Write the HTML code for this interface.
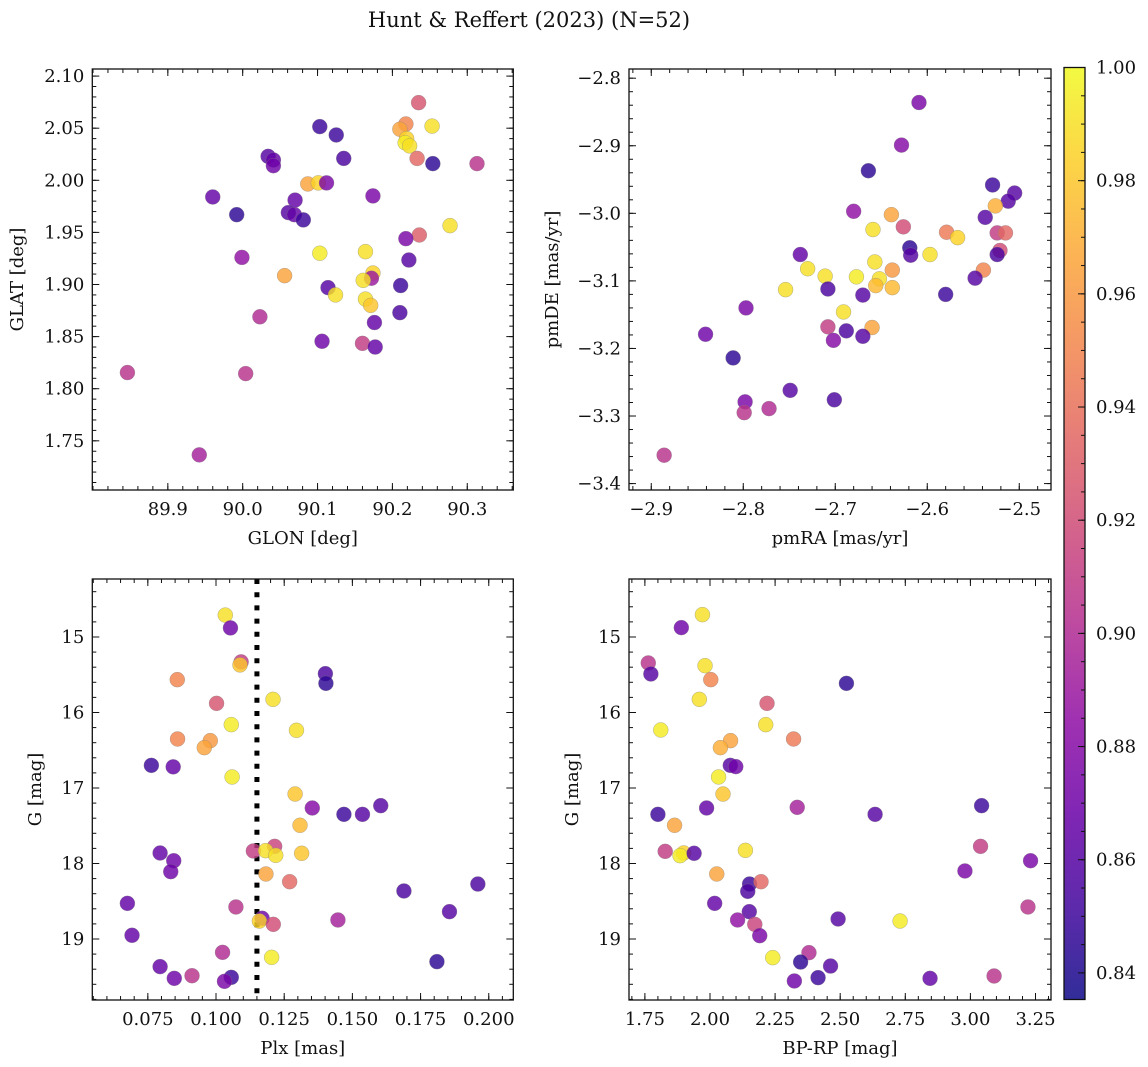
<!DOCTYPE html>
<html><head><meta charset="utf-8"><title>Hunt & Reffert (2023)</title>
<style>
html,body{margin:0;padding:0;background:#fff;}
svg{display:block;font-family:"DejaVu Serif","Liberation Serif",serif;}
</style></head>
<body>
<svg id="fig" width="1148" height="1067" viewBox="0 0 1148 1067" xmlns="http://www.w3.org/2000/svg">
<defs>
<linearGradient id="plasmaGrad" x1="0" y1="1" x2="0" y2="0"></linearGradient>
</defs>
<text x="529" y="27" font-size="21" text-anchor="middle" fill="#111">Hunt &amp; Reffert (2023) (N=52)</text>
</svg>
<script>
// ---------------- data ----------------
const vMin = 0.8353, vMax = 1.0;
// Panel 1: GLON vs GLAT
const glon = [90.235,90.218,90.253,90.210,90.219,90.217,90.223,90.233,90.254,90.313,90.103,90.125,90.135,90.034,90.041,90.041,90.087,90.101,90.112,90.174,89.960,90.070,89.992,90.061,90.069,90.081,90.277,90.236,90.218,89.999,90.103,90.164,90.222,90.056,90.174,90.172,90.161,90.114,90.124,90.211,90.164,90.171,90.210,90.023,90.176,90.106,90.160,90.177,89.846,90.004,89.942];
const glat = [2.0745,2.054,2.052,2.049,2.040,2.036,2.033,2.021,2.016,2.016,2.0515,2.0435,2.021,2.023,2.0195,2.014,1.9965,1.9975,1.9975,1.985,1.984,1.981,1.967,1.969,1.967,1.962,1.9565,1.9475,1.944,1.926,1.930,1.9315,1.9235,1.9085,1.911,1.906,1.904,1.897,1.890,1.899,1.886,1.880,1.873,1.869,1.8635,1.8455,1.8435,1.840,1.8155,1.8145,1.7365];
const prob1 = [0.925,0.95,0.99,0.965,0.985,0.995,0.99,0.935,0.845,0.905,0.85,0.85,0.855,0.86,0.865,0.87,0.965,0.985,0.875,0.875,0.865,0.865,0.845,0.86,0.865,0.85,0.99,0.93,0.875,0.885,0.995,0.99,0.86,0.965,0.985,0.89,0.99,0.86,0.99,0.85,0.99,0.98,0.855,0.9,0.865,0.87,0.91,0.865,0.905,0.905,0.895];
// Panel 2: pmRA vs pmDE
const pmra = [-2.609,-2.628,-2.664,-2.529,-2.505,-2.512,-2.526,-2.680,-2.639,-2.626,-2.537,-2.659,-2.579,-2.567,-2.524,-2.515,-2.619,-2.618,-2.597,-2.521,-2.524,-2.738,-2.730,-2.711,-2.657,-2.638,-2.677,-2.652,-2.656,-2.638,-2.539,-2.548,-2.754,-2.708,-2.670,-2.580,-2.797,-2.691,-2.708,-2.660,-2.688,-2.670,-2.702,-2.841,-2.811,-2.749,-2.701,-2.798,-2.799,-2.772,-2.886];
const pmde = [-2.836,-2.899,-2.937,-2.958,-2.970,-2.982,-2.989,-2.997,-3.002,-3.020,-3.006,-3.024,-3.028,-3.036,-3.029,-3.029,-3.051,-3.062,-3.061,-3.055,-3.061,-3.061,-3.082,-3.093,-3.072,-3.084,-3.094,-3.097,-3.107,-3.110,-3.084,-3.096,-3.113,-3.112,-3.121,-3.120,-3.140,-3.146,-3.168,-3.169,-3.174,-3.182,-3.188,-3.179,-3.214,-3.262,-3.276,-3.279,-3.295,-3.289,-3.358];
const prob2 = [0.875,0.88,0.845,0.85,0.86,0.86,0.97,0.885,0.965,0.92,0.86,0.99,0.945,0.985,0.91,0.935,0.845,0.86,0.99,0.92,0.855,0.865,0.99,0.99,0.99,0.96,0.995,0.99,0.975,0.975,0.95,0.86,0.99,0.855,0.86,0.85,0.875,0.99,0.91,0.965,0.855,0.86,0.88,0.87,0.845,0.86,0.855,0.875,0.905,0.9,0.905];
// Panel 3: Plx vs G
const plx = [0.1034,0.1053,0.1092,0.1088,0.0858,0.1401,0.1403,0.1002,0.1209,0.1056,0.1295,0.0859,0.0979,0.0957,0.0763,0.0843,0.1059,0.1290,0.1353,0.1604,0.1469,0.1537,0.1308,0.0795,0.0845,0.0834,0.1137,0.1215,0.1182,0.1219,0.1314,0.1183,0.1270,0.0675,0.1073,0.1689,0.1960,0.1856,0.1169,0.1159,0.1210,0.1447,0.0692,0.1024,0.1204,0.1810,0.0795,0.0847,0.0912,0.1056,0.1031];
const gmag3 = [14.71,14.88,15.33,15.37,15.565,15.486,15.614,15.879,15.826,16.161,16.236,16.351,16.373,16.466,16.70,16.72,16.854,17.08,17.265,17.234,17.349,17.349,17.494,17.861,17.963,18.108,17.834,17.773,17.830,17.892,17.865,18.139,18.241,18.528,18.576,18.364,18.272,18.638,18.726,18.762,18.806,18.748,18.951,19.177,19.243,19.300,19.366,19.521,19.486,19.508,19.561];
const prob3 = [0.99,0.87,0.91,0.98,0.95,0.855,0.845,0.925,0.99,0.995,0.99,0.95,0.96,0.965,0.85,0.865,0.995,0.98,0.88,0.86,0.85,0.86,0.975,0.865,0.87,0.87,0.91,0.915,0.99,0.99,0.98,0.965,0.935,0.865,0.905,0.855,0.855,0.86,0.87,0.985,0.92,0.895,0.865,0.9,0.995,0.845,0.865,0.87,0.905,0.85,0.875];
const plxCut = 0.115;
// Panel 4: BP-RP vs G
const bprp = [1.971,1.890,1.763,1.773,1.981,2.003,2.524,1.959,2.219,1.811,2.214,2.321,2.079,2.040,2.078,2.099,2.033,2.050,1.987,2.335,1.800,2.634,3.043,1.864,1.828,1.899,1.885,1.939,2.136,3.039,3.231,2.979,2.026,2.152,2.196,2.145,2.018,3.221,2.151,2.106,2.492,2.730,2.172,2.191,2.241,2.380,2.348,2.463,2.415,2.324,2.845,3.091];
const gmag4 = [14.704,14.876,15.344,15.490,15.380,15.565,15.614,15.826,15.879,16.232,16.161,16.351,16.373,16.466,16.700,16.717,16.854,17.080,17.265,17.256,17.349,17.349,17.234,17.494,17.839,17.861,17.896,17.865,17.826,17.773,17.963,18.099,18.139,18.272,18.241,18.369,18.528,18.576,18.638,18.748,18.735,18.762,18.806,18.956,19.247,19.181,19.305,19.358,19.512,19.556,19.521,19.490];
const prob4 = [0.99,0.87,0.905,0.86,0.99,0.95,0.845,0.99,0.925,0.995,0.99,0.945,0.965,0.97,0.86,0.87,0.995,0.98,0.865,0.895,0.85,0.86,0.85,0.965,0.91,0.985,0.995,0.86,0.99,0.91,0.875,0.875,0.965,0.85,0.935,0.855,0.865,0.905,0.86,0.885,0.86,0.995,0.915,0.875,0.995,0.9,0.845,0.86,0.85,0.87,0.865,0.905];
// ticks
const xTicks1 = [89.9,90.0,90.1,90.2,90.3];
const yTicks1 = [1.75,1.80,1.85,1.90,1.95,2.00,2.05,2.10];
const xTicks2 = [-2.9,-2.8,-2.7,-2.6,-2.5];
const yTicks2 = [-3.4,-3.3,-3.2,-3.1,-3.0,-2.9,-2.8];
const xTicks3 = [0.075,0.100,0.125,0.150,0.175,0.200];
const yTicksG = [15,16,17,18,19];
const xTicks4 = [1.75,2.00,2.25,2.50,2.75,3.00,3.25];
const cbTicks = [0.84,0.86,0.88,0.90,0.92,0.94,0.96,0.98,1.00];

// ---------------- helpers ----------------
const NS = "http://www.w3.org/2000/svg";
const svg = document.getElementById('fig');
const plasmaStops = ["#0d0887","#41049d","#6a00a8","#8f0da4","#b12a90","#cc4778","#e16462","#f2844b","#fca636","#fcce25","#f0f921"];
function hex2rgb(h){return [parseInt(h.substr(1,2),16),parseInt(h.substr(3,2),16),parseInt(h.substr(5,2),16)];}
function plasma(t){
  t=Math.max(0,Math.min(1,t));
  const s=t*10, i=Math.min(9,Math.floor(s)), f=s-i;
  const a=hex2rgb(plasmaStops[i]), b=hex2rgb(plasmaStops[i+1]);
  return 'rgb('+a.map((v,k)=>Math.round(v+(b[k]-v)*f)).join(',')+')';
}
function mk(tag, attrs, parent){
  const e=document.createElementNS(NS,tag);
  for(const k in attrs) e.setAttribute(k,attrs[k]);
  (parent||svg).appendChild(e);
  return e;
}
function fmt(v,d){const s=Math.abs(v).toFixed(d);return (v<-1e-9?'\u2212':'')+s;}

function panel(cfg){
  const g=mk('g',{});
  
  
  const sx=v=>cfg.x0+(v-cfg.xd[0])/(cfg.xd[1]-cfg.xd[0])*(cfg.x1-cfg.x0);
  const sy=cfg.yInv ? (v=>cfg.y0+(v-cfg.yd[0])/(cfg.yd[1]-cfg.yd[0])*(cfg.y1-cfg.y0))
                    : (v=>cfg.y1-(v-cfg.yd[0])/(cfg.yd[1]-cfg.yd[0])*(cfg.y1-cfg.y0));
  const tickG=mk('g',{stroke:'#111','stroke-width':1},g);
  
  
  const lo=Math.min(cfg.xd[0],cfg.xd[1]), hi=Math.max(cfg.xd[0],cfg.xd[1]);
  for(let k=Math.ceil(lo/cfg.xm-1e-6);k*cfg.xm<=hi;k++){
    const x=sx(k*cfg.xm);
    mk('line',{x1:x,x2:x,y1:cfg.y1,y2:cfg.y1-4},tickG);
    mk('line',{x1:x,x2:x,y1:cfg.y0,y2:cfg.y0+4},tickG);
  }
  const ylo=Math.min(cfg.yd[0],cfg.yd[1]), yhi=Math.max(cfg.yd[0],cfg.yd[1]);
  for(let k=Math.ceil(ylo/cfg.ym-1e-6);k*cfg.ym<=yhi;k++){
    const y=sy(k*cfg.ym);
    mk('line',{x1:cfg.x0,x2:cfg.x0+4,y1:y,y2:y},tickG);
    mk('line',{x1:cfg.x1,x2:cfg.x1-4,y1:y,y2:y},tickG);
  }
  cfg.xt.forEach(v=>{
    const x=sx(v);
    mk('line',{x1:x,x2:x,y1:cfg.y1,y2:cfg.y1-7},tickG);
    mk('line',{x1:x,x2:x,y1:cfg.y0,y2:cfg.y0+7},tickG);
    const t=mk('text',{x:x,y:cfg.y1+25,'font-size':18,'text-anchor':'middle',fill:'#111'},g);
    
    
    t.textContent=fmt(v,cfg.xf);
  });
  cfg.yt.forEach(v=>{
    const y=sy(v);
    mk('line',{x1:cfg.x0,x2:cfg.x0+7,y1:y,y2:y},tickG);
    mk('line',{x1:cfg.x1,x2:cfg.x1-7,y1:y,y2:y},tickG);
    const t=mk('text',{x:cfg.x0-8,y:y+6,'font-size':18,'text-anchor':'end',fill:'#111'},g);
    
    
    t.textContent=fmt(v,cfg.yf);
  });
  if(cfg.vline!==undefined){
    const l=mk('line',{x1:sx(cfg.vline),x2:sx(cfg.vline),y1:cfg.y0,y2:cfg.y1,stroke:'#000','stroke-width':5,'stroke-dasharray':'5,8.2'},g);
    
    
  }
  const ptG=mk('g',{},g);
  
  
  cfg.xs.forEach((xv,i)=>{
    const c=mk('circle',{cx:sx(xv),cy:sy(cfg.ys[i]),r:7.5,fill:plasma((cfg.cs[i]-vMin)/(vMax-vMin)),'fill-opacity':0.82,stroke:'#808080','stroke-opacity':0.6,'stroke-width':0.5},ptG);
    
    
  });
  const fr=mk('rect',{x:cfg.x0,y:cfg.y0,width:cfg.x1-cfg.x0,height:cfg.y1-cfg.y0,fill:'none',stroke:'#111','stroke-width':1.3},g);
  
  
  const xl=mk('text',{x:(cfg.x0+cfg.x1)/2,y:cfg.y1+54,'font-size':18,'text-anchor':'middle',fill:'#111'},g);
  
  
  xl.textContent=cfg.xl;
  const yc=(cfg.y0+cfg.y1)/2;
  const yl=mk('text',{x:cfg.ylx,y:yc,'font-size':18,'text-anchor':'middle',fill:'#111',transform:'rotate(-90 '+cfg.ylx+' '+yc+')'},g);
  
  
  yl.textContent=cfg.yl;
}

panel({name:'glon-glat-panel',x0:92.3,x1:513.3,y0:69,y1:490,xd:[89.7991,90.3615],yd:[1.7028,2.1068],xt:xTicks1,yt:yTicks1,xm:0.02,ym:0.01,xf:1,yf:2,xs:glon,ys:glat,cs:prob1,xl:'GLON [deg]',yl:'GLAT [deg]',ylx:23});
panel({name:'pm-panel',x0:629,x1:1051,y0:69,y1:490,xd:[-2.9242,-2.4655],yd:[-3.4095,-2.7864],xt:xTicks2,yt:yTicks2,xm:0.02,ym:0.02,xf:1,yf:1,xs:pmra,ys:pmde,cs:prob2,xl:'pmRA [mas/yr]',yl:'pmDE [mas/yr]',ylx:558});
panel({name:'plx-g-panel',x0:92.3,x1:513.3,y0:579,y1:1000,xd:[0.05464,0.2090],yd:[14.232,19.808],yInv:true,xt:xTicks3,yt:yTicksG,xm:0.005,ym:0.2,xf:3,yf:0,xs:plx,ys:gmag3,cs:prob3,xl:'Plx [mas]',yl:'G [mag]',ylx:41,vline:plxCut});
panel({name:'cmd-panel',x0:629,x1:1051,y0:579,y1:1000,xd:[1.689,3.3095],yd:[14.232,19.808],yInv:true,xt:xTicks4,yt:yTicksG,xm:0.05,ym:0.2,xf:2,yf:0,xs:bprp,ys:gmag4,cs:prob4,xl:'BP-RP [mag]',yl:'G [mag]',ylx:578});

// ---------------- colorbar ----------------
const grad=document.getElementById('plasmaGrad');
for(let i=0;i<=10;i++){
  mk('stop',{offset:(i*10)+'%','stop-color':plasmaStops[i],'stop-opacity':0.85},grad);
}
const cb={x0:1064,x1:1085,y0:67.5,y1:999.5};
const cbG=mk('g',{});


const cbR=mk('rect',{x:cb.x0,y:cb.y0,width:cb.x1-cb.x0,height:cb.y1-cb.y0,fill:'url(#plasmaGrad)',stroke:'#111','stroke-width':1.3},cbG);


const cy=v=>cb.y1-(v-vMin)/(vMax-vMin)*(cb.y1-cb.y0);
for(let k=Math.ceil(vMin/0.005-1e-6);k*0.005<=vMax+1e-9;k++){
  const y=cy(k*0.005);
  mk('line',{x1:cb.x1,x2:cb.x1-4,y1:y,y2:y,stroke:'#111','stroke-width':1},cbG);
}
cbTicks.forEach(v=>{
  const y=cy(v);
  mk('line',{x1:cb.x1,x2:cb.x1-7,y1:y,y2:y,stroke:'#111','stroke-width':1},cbG);
  const t=mk('text',{x:cb.x1+11,y:y+6,'font-size':18,fill:'#111'},cbG);
  
  
  t.textContent=v.toFixed(2);
});
</script>
</body></html>
